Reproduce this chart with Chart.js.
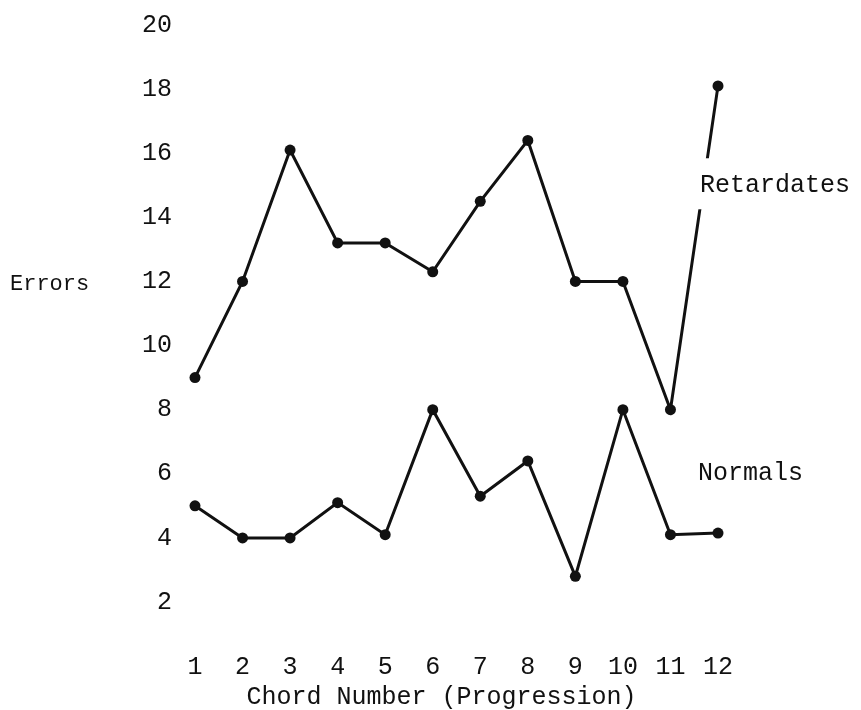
<!DOCTYPE html>
<html>
<head>
<meta charset="utf-8">
<script src="https://cdn.jsdelivr.net/npm/chart.js@4/dist/chart.umd.min.js"></script>
<style>
  html, body { margin: 0; padding: 0; background: #fff; }
  #wrap { width: 861px; height: 710px; }
</style>
</head>
<body>
<div id="wrap"><canvas id="myChart"></canvas></div>
<script>
// chord numbers along the x-axis
var chords = ['1','2','3','4','5','6','7','8','9','10','11','12'];
// errors per chord
var retardates = [9, 12, 16.1, 13.2, 13.2, 12.3, 14.5, 16.4, 12, 12, 8, 18.1];
var normals = [5, 4, 4, 5.1, 4.1, 8, 5.3, 6.4, 2.8, 8, 4.1, 4.15];
// y tick values
var errorTicks = [2, 4, 6, 8, 10, 12, 14, 16, 18, 20];

var typeFont = "'Liberation Mono', 'DejaVu Sans Mono', monospace";
var ink = '#111';

// series names and the y label are written straight on the plot
var labelsPlugin = {
    id: 'typedLabels',
    afterDatasetsDraw: function(chart) {
        var ctx = chart.ctx;
        var area = chart.chartArea;
        var y = chart.scales.y;
        ctx.save();
        ctx.font = '25px ' + typeFont;
        ctx.textBaseline = 'middle';
        ctx.textAlign = 'left';

        // the retardates line is broken where its name is typed
        var ry = y.getPixelForValue(15);
        ctx.fillStyle = '#fff';
        ctx.fillRect(area.right - 20, ry - 27, 180, 51);
        ctx.fillStyle = ink;
        ctx.fillText('Retardates', area.right - 18, ry);

        ctx.fillText('Normals', area.right - 20, y.getPixelForValue(6));

        ctx.font = '22px ' + typeFont;
        ctx.fillText('Errors', 10, y.getPixelForValue(11.9));
        ctx.restore();
    }
};

function lineSet(name, values) {
    return {
        label: name,
        data: values,
        borderColor: ink,
        backgroundColor: ink,
        borderWidth: 3,
        pointRadius: 5.5,
        pointBackgroundColor: ink,
        pointBorderWidth: 0,
        tension: 0,
        clip: false
    };
}

var ctx = document.getElementById('myChart');
var myChart = new Chart(ctx, {
    type: 'line',
    data: {
        labels: chords,
        datasets: [
            lineSet('Retardates', retardates),
            lineSet('Normals', normals)
        ]
    },
    options: {
        responsive: true,
        maintainAspectRatio: false,
        animation: false,
        layout: { padding: { top: 25, right: 143, left: 0, bottom: 0 } },
        plugins: {
            legend: { display: false },
            tooltip: { enabled: false }
        },
        scales: {
            x: {
                type: 'category',
                offset: false,
                border: { display: false },
                grid: { display: false, drawTicks: false },
                ticks: {
                    color: ink,
                    padding: 50,
                    maxRotation: 0,
                    autoSkip: false,
                    font: { family: typeFont, size: 25 }
                },
                title: {
                    display: true,
                    // trailing spaces nudge the centred title a little left, as typed
                    text: 'Chord Number (Progression)  ',
                    color: ink,
                    padding: { top: 0, bottom: 0 },
                    font: { family: typeFont, size: 25, lineHeight: 1.0 }
                },
                afterFit: function(scale) { scale.height = 108; }
            },
            y: {
                min: 2,
                max: 20,
                border: { display: false },
                grid: { display: false, drawTicks: false },
                afterBuildTicks: function(scale) {
                    scale.ticks = errorTicks.map(function(v) { return { value: v }; });
                },
                ticks: {
                    color: ink,
                    padding: 23,
                    font: { family: typeFont, size: 25 }
                },
                afterFit: function(scale) {
                    scale.width = 195;
                    scale.paddingTop = 0;
                    scale.paddingBottom = 0;
                }
            }
        }
    },
    plugins: [labelsPlugin]
});
</script>
</body>
</html>
